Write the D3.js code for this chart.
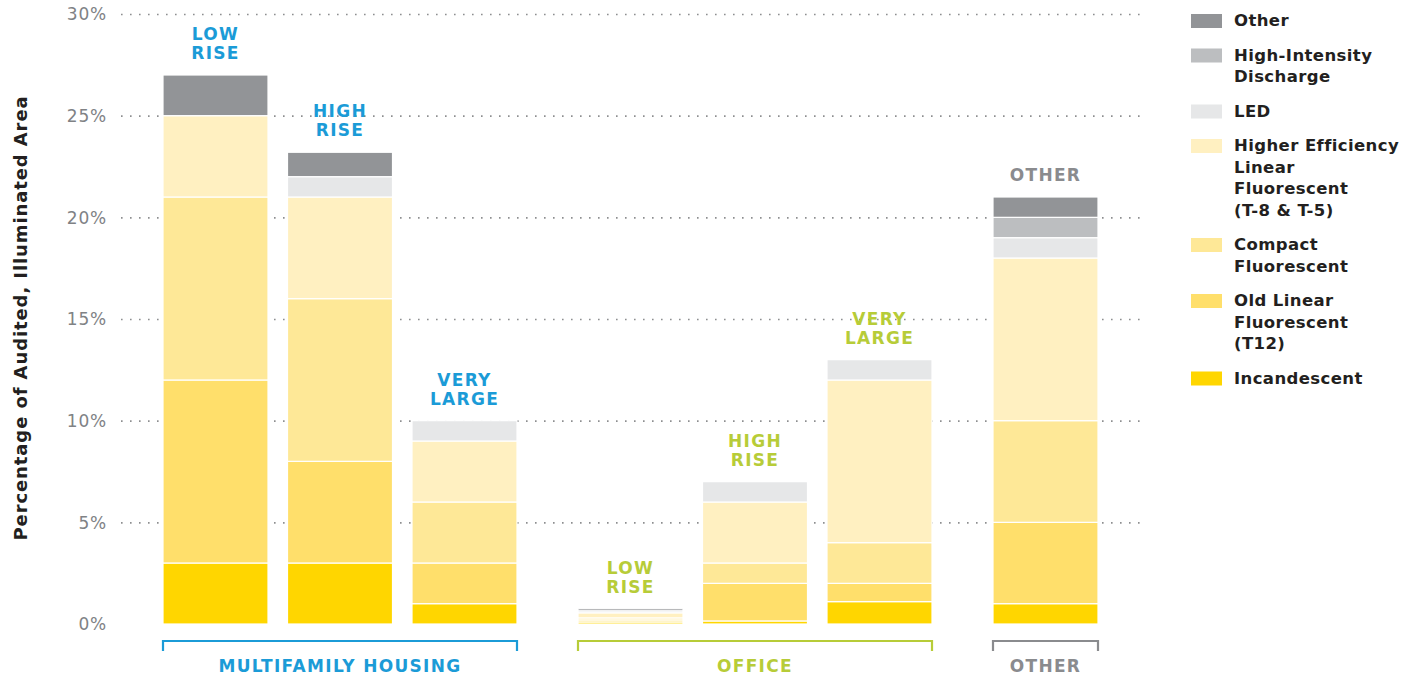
<!DOCTYPE html>
<html>
<head>
<meta charset="utf-8">
<script src="https://cdn.jsdelivr.net/npm/d3@7"></script>
<style>
  body { margin: 0; background: #fff; }
  text { font-family: "DejaVu Sans", sans-serif; }
</style>
</head>
<body>
<div id="plot"></div>
<script>
// Columns (one bar each) and the sector they belong to.
var columns = ["MF Low Rise", "MF High Rise", "MF Very Large", "Office Low Rise", "Office High Rise", "Office Very Large", "Other"];
var columnGroup = [0, 0, 0, 1, 1, 1, 2];
var columnLabels = [["LOW", "RISE"], ["HIGH", "RISE"], ["VERY", "LARGE"], ["LOW", "RISE"], ["HIGH", "RISE"], ["VERY", "LARGE"], ["OTHER"]];
var groups = ["MULTIFAMILY HOUSING", "OFFICE", "OTHER"];
var groupColors = ["#1b9bd7", "#b7cc38", "#8a8b8e"];

// Series values (% of audited, illuminated area), bottom to top.
var incandescent = [3, 3, 1, 0.1, 0.15, 1.1, 1];
var oldLinear    = [9, 5, 2, 0.1, 1.85, 0.9, 4];
var compact      = [9, 8, 3, 0.1, 1, 2, 5];
var higherEff    = [4, 5, 3, 0.25, 3, 8, 8];
var led          = [0, 1, 1, 0.1, 1, 1, 1];
var hid          = [0, 0, 0, 0, 0, 0, 1];
var other        = [2, 1.2, 0, 0.1, 0, 0, 1];

var seriesKeys = ["Incandescent", "Old Linear", "Compact", "Higher Eff", "LED", "HID", "Other"];
var seriesValues = [incandescent, oldLinear, compact, higherEff, led, hid, other];
var seriesColors = ["#ffd600", "#ffdf6b", "#fee897", "#fff0c1", "#e6e7e8", "#bcbec0", "#929497"];

// Legend, top to bottom.
var legendItems = [
	{key: "Other", lines: ["Other"]},
	{key: "HID", lines: ["High-Intensity", "Discharge"]},
	{key: "LED", lines: ["LED"]},
	{key: "Higher Eff", lines: ["Higher Efficiency", "Linear", "Fluorescent", "(T-8 & T-5)"]},
	{key: "Compact", lines: ["Compact", "Fluorescent"]},
	{key: "Old Linear", lines: ["Old Linear", "Fluorescent", "(T12)"]},
	{key: "Incandescent", lines: ["Incandescent"]}
];

var yTicks = [0, 5, 10, 15, 20, 25, 30];

var W = 1416, H = 677;
var svg = d3.select("#plot").append("svg")
	.attr("width", W)
	.attr("height", H);

// Table of rows for the stack.
var table = columns.map(function(c, i) {
	var row = {col: c, idx: i};
	seriesKeys.forEach(function(k, s) { row[k] = seriesValues[s][i]; });
	return row;
});
var stacked = d3.stack().keys(seriesKeys)(table);

var color = d3.scaleOrdinal().domain(seriesKeys).range(seriesColors);

var y = d3.scaleLinear().domain([0, 30]).range([624, 14]);

// Slot position: three bars per group, with a third of a step between groups.
function slot(i) { return columnGroup[i] * (1 / 3) + i; }
var x = d3.scaleLinear().domain([0, 1]).range([163, 287.5]);
var barW = 105;

// Gridlines + tick labels
var grid = svg.append("g")
	.call(d3.axisLeft(y).tickValues(yTicks).tickSize(0).tickPadding(0)
		.tickFormat(function(d) { return d + "%"; }));
grid.select(".domain").remove();
grid.selectAll(".tick text")
	.attr("x", 107)
	.attr("text-anchor", "end")
	.attr("dy", "0.35em")
	.style("font-size", "17px")
	.style("letter-spacing", "0.8px")
	.style("font-family", "DejaVu Sans, sans-serif")
	.attr("fill", "#808285");
grid.selectAll(".tick").filter(function(d) { return d > 0; })
	.append("line")
	.attr("x1", 121).attr("x2", 1142)
	.attr("stroke", "#8d8e90")
	.attr("stroke-width", 1.6)
	.attr("stroke-dasharray", "1.6,7.4");

// Y title
svg.append("text")
	.attr("transform", "translate(27,318) rotate(-90)")
	.attr("text-anchor", "middle")
	.style("font-size", "18px")
	.style("font-weight", "bold")
	.style("letter-spacing", "0.9px")
	.attr("fill", "#231f20")
	.text("Percentage of Audited, Illuminated Area");

// Bars
svg.append("g").selectAll("g")
	.data(stacked)
	.enter().append("g")
	.attr("fill", function(d) { return color(d.key); })
	.selectAll("rect")
	.data(function(d) { return d.filter(function(p) { return p[1] - p[0] > 0; }); })
	.enter().append("rect")
		.attr("x", function(d) { return x(slot(d.data.idx)); })
		.attr("y", function(d) { return y(d[1]); })
		.attr("width", barW)
		.attr("height", function(d) { return y(d[0]) - y(d[1]); })
		.attr("stroke", "#fff")
		.attr("stroke-width", 1.2);

// Labels above bars
var totals = table.map(function(r) { return d3.sum(seriesKeys, function(k) { return r[k]; }); });
columns.forEach(function(c, i) {
	var lines = columnLabels[i];
	var t = svg.append("text")
		.attr("text-anchor", "middle")
		.attr("fill", groupColors[columnGroup[i]])
		.style("font-size", "17px")
		.style("font-weight", "bold")
		.style("letter-spacing", "1.3px");
	lines.forEach(function(l, j) {
		t.append("tspan")
			.attr("x", x(slot(i)) + barW / 2)
			.attr("y", y(totals[i]) - 16 - (lines.length - 1 - j) * 19)
			.text(l);
	});
});

// Group brackets
groups.forEach(function(g, gi) {
	var idx = columns.map(function(c, i) { return i; }).filter(function(i) { return columnGroup[i] === gi; });
	var x0 = x(slot(idx[0])), x1 = x(slot(idx[idx.length - 1])) + barW;
	svg.append("path")
		.attr("d", "M" + x0 + ",651V641H" + x1 + "V651")
		.attr("fill", "none")
		.attr("stroke", groupColors[gi])
		.attr("stroke-width", 2.2);
	svg.append("text")
		.attr("x", (x0 + x1) / 2)
		.attr("y", 672)
		.attr("text-anchor", "middle")
		.attr("fill", groupColors[gi])
		.style("font-size", "17px")
		.style("font-weight", "bold")
		.style("letter-spacing", "1.3px")
		.text(g);
});

// Legend
var ly = 14;
var legend = svg.append("g").attr("class", "legend");
legendItems.forEach(function(item) {
	legend.append("rect")
		.attr("x", 1191).attr("y", ly)
		.attr("width", 31).attr("height", 14)
		.attr("fill", color(item.key));
	var t = legend.append("text")
		.attr("fill", "#231f20")
		.style("font-size", "16.5px")
		.style("font-weight", "bold")
		.style("letter-spacing", "0.4px");
	item.lines.forEach(function(l, j) {
		t.append("tspan")
			.attr("x", 1234)
			.attr("y", ly + 12 + j * 21.5)
			.text(l);
	});
	ly += item.lines.length * 21.5 + 13;
});
</script>
</body>
</html>
